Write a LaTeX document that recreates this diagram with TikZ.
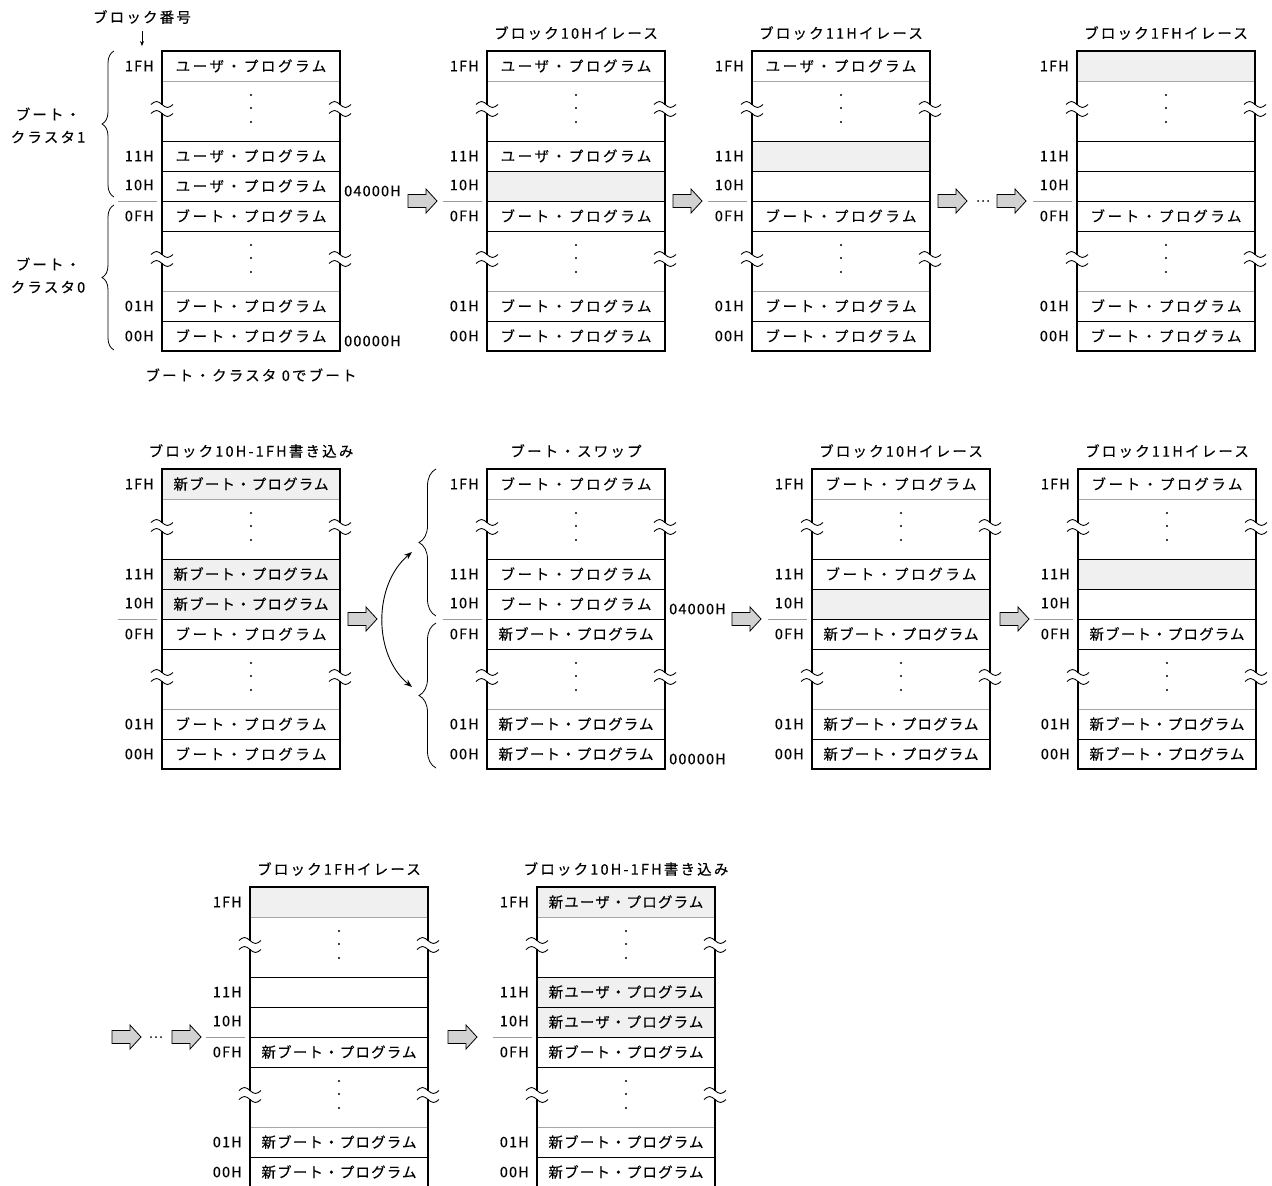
\documentclass[tikz,border=0pt]{standalone}
\usepackage{fontspec}
\setmainfont{Noto Sans CJK JP}
\newfontfamily\jpT[LetterSpace=15,FakeBold=0.3]{Noto Sans CJK JP}
\newfontfamily\jpC[LetterSpace=18,FakeBold=0.3]{Noto Sans CJK JP}
\newfontfamily\jpN[LetterSpace=8,FakeBold=0.3]{Noto Sans CJK JP}
\newfontfamily\jpL[LetterSpace=8,FakeBold=0.3]{Noto Sans CJK JP}
\usetikzlibrary{decorations.pathreplacing,arrows.meta}
\definecolor{cellgray}{gray}{0.94}
\newcommand\txU{{\jpC ユーザ・プログラム}}
\newcommand\txB{{\jpC ブート・プログラム}}
\newcommand\txNB{{\jpN 新ブート・プログラム}}
\newcommand\txNU{{\jpN 新ユーザ・プログラム}}
\tikzset{
  frame/.style={line width=1.6pt},
  midln/.style={line width=1pt},
  thinln/.style={line width=0.7pt,draw=gray!70},
  sepln/.style={line width=0.8pt,draw=gray!80},
  squigln/.style={line width=0.9pt},
  lbl/.style={anchor=east,inner sep=0pt,font=\jpL\fontsize{14.5}{16}\selectfont},
  addr/.style={anchor=west,inner sep=0pt,font=\jpL\fontsize{14.5}{16}\selectfont},
  cell/.style={inner sep=0pt,font=\fontsize{14.5}{16}\selectfont},
  ttl/.style={inner sep=0pt,font=\jpT\fontsize{14.5}{16}\selectfont},
  barr/.style={fill=gray!35,draw=black,line width=0.8pt,line join=miter},
  brc/.style={decorate,decoration={brace,amplitude=12pt},line width=0.8pt},
  brcb/.style={decorate,decoration={brace,amplitude=17pt},line width=0.8pt},
  swaparr/.style={{Stealth[length=8pt,width=6pt]}-{Stealth[length=8pt,width=6pt]},line width=0.9pt}
}
\newcommand\squig[2]{%
  \fill[white] (#1-2.2,#2-4.2) rectangle (#1+2.2,#2+4.2);
  \draw[squigln] (#1-11,#2-4.5) sin (#1-5.5,#2-7.5) cos (#1,#2-4.5) sin (#1+5.5,#2-1.5) cos (#1+11,#2-4.5);
  \draw[squigln] (#1-11,#2+4.5) sin (#1-5.5,#2+1.5) cos (#1,#2+4.5) sin (#1+5.5,#2+7.5) cos (#1+11,#2+4.5);
}
\newcommand\shadecell[3]{\fill[cellgray] (#1,#2+#3) rectangle (#1+178,#2+#3+30);}
\newcommand\memcol[9]{%
\begin{scope}[shift={(#2,#3)}]
  \coordinate (#1) at (0,0);
  \draw[thinln] (0,30) -- (178,30);
  \draw[midln] (0,90) -- (178,90);
  \draw[midln] (0,120) -- (178,120);
  \draw[midln] (0,150) -- (178,150);
  \draw[midln] (0,180) -- (178,180);
  \draw[thinln] (0,240) -- (178,240);
  \draw[midln] (0,270) -- (178,270);
  \draw[frame] (0,0) rectangle (178,300);
  \squig{0}{58}\squig{178}{58}\squig{0}{208}\squig{178}{208}
  \foreach \dy in {44,57,71,194,207,221} \fill (89,\dy) circle (1.2pt);
  \node[lbl] (#1l1) at (-8,15) {1FH};
  \node[lbl] (#1l2) at (-8,105) {11H};
  \node[lbl] (#1l3) at (-8,134) {10H};
  \node[lbl] (#1l4) at (-8,165) {0FH};
  \node[lbl] (#1l5) at (-8,255) {01H};
  \node[lbl] (#1l6) at (-8,285) {00H};
  \draw[sepln] (-44,150) -- (-5,150);
  \node[cell] (#1c1) at (89,15) {#4};
  \node[cell] (#1c2) at (89,105) {#5};
  \node[cell] (#1c3) at (89,135) {#6};
  \node[cell] (#1c4) at (89,165) {#7};
  \node[cell] (#1c5) at (89,255) {#8};
  \node[cell] (#1c6) at (89,285) {#9};
\end{scope}}
\newcommand\barrow[3]{\coordinate (#1) at (#2,#3);
  \draw[barr] (#2,#3-6.5) -- (#2+18,#3-6.5) -- (#2+18,#3-12) -- (#2+29,#3) -- (#2+18,#3+12) -- (#2+18,#3+6.5) -- (#2,#3+6.5) -- cycle;}
\newcommand\tridots[2]{\fill (#1,#2) circle (1pt); \fill (#1+5,#2) circle (1pt); \fill (#1+10,#2) circle (1pt);}
\begin{document}
\begin{tikzpicture}[x=1pt,y=-1pt]
\useasboundingbox (0,0) rectangle (1272,1186);
% ---------- row 1 ----------
\node[ttl] (bnum) at (142,17) {ブロック番号};
\coordinate (bnumtip) at (142,46);
\draw[-{Stealth[length=5pt,width=4pt]},line width=0.8pt] (bnum.south |- 0,31) -- (bnumtip);
\memcol{pa}{162}{51}{\txU}{\txU}{\txU}{\txB}{\txB}{\txB}
\node[addr] (pa04) at (344,191) {04000H};
\node[addr] (pa00) at (344,341) {00000H};
\draw[brc] (114,197) -- (114,51);
\draw[brc] (114,350) -- (114,205);
\node[ttl] (cl1a) at (48,114) {ブート・};
\node[ttl] (cl1b) at (48,137) {クラスタ1};
\node[ttl] (cl0a) at (48,264) {ブート・};
\node[ttl] (cl0b) at (48,287) {クラスタ0};
\node[ttl] (cap1) at (251,375) {ブート・クラスタ 0でブート};
\barrow{ar1}{408}{201}
\shadecell{487}{51}{120}
\memcol{pb}{487}{51}{\txU}{\txU}{}{\txB}{\txB}{\txB}
\node[ttl] (tpb) at (576,33) {ブロック10Hイレース};
\barrow{ar2}{673}{201}
\shadecell{752}{51}{90}
\memcol{pc}{752}{51}{\txU}{}{}{\txB}{\txB}{\txB}
\node[ttl] (tpc) at (841,33) {ブロック11Hイレース};
\barrow{ar3}{938}{201}
\tridots{978}{201}
\barrow{ar4}{997}{201}
\shadecell{1077}{51}{0}
\memcol{pd}{1077}{51}{}{}{}{\txB}{\txB}{\txB}
\node[ttl] (tpd) at (1166,33) {ブロック1FHイレース};
% ---------- row 2 ----------
\shadecell{162}{469}{0}\shadecell{162}{469}{90}\shadecell{162}{469}{120}
\memcol{qa}{162}{469}{\txNB}{\txNB}{\txNB}{\txB}{\txB}{\txB}
\node[ttl] (tqa) at (251,451) {ブロック10H-1FH書き込み};
\barrow{ar5}{348}{619}
\coordinate (swT) at (412,552);
\coordinate (swB) at (412,687);
\draw[swaparr] (swT) .. controls (373,585) and (373,655) .. (swB);
\draw[brcb] (436,616) -- (436,469);
\draw[brcb] (436,768) -- (436,623);
\memcol{qb}{487}{469}{\txB}{\txB}{\txB}{\txNB}{\txNB}{\txNB}
\node[ttl] (tqb) at (576,451) {ブート・スワップ};
\node[addr] (qb04) at (669,609) {04000H};
\node[addr] (qb00) at (669,759) {00000H};
\barrow{ar6}{732}{619}
\shadecell{812}{469}{120}
\memcol{qc}{812}{469}{\txB}{\txB}{}{\txNB}{\txNB}{\txNB}
\node[ttl] (tqc) at (901,451) {ブロック10Hイレース};
\barrow{ar7}{1000}{619}
\shadecell{1078}{469}{90}
\memcol{qd}{1078}{469}{\txB}{}{}{\txNB}{\txNB}{\txNB}
\node[ttl] (tqd) at (1167,451) {ブロック11Hイレース};
% ---------- row 3 ----------
\barrow{ar8}{112}{1037}
\tridots{151}{1037}
\barrow{ar9}{172}{1037}
\shadecell{250}{887}{0}
\memcol{ra}{250}{887}{}{}{}{\txNB}{\txNB}{\txNB}
\node[ttl] (tra) at (339,869) {ブロック1FHイレース};
\barrow{ar10}{448}{1037}
\shadecell{537}{887}{0}\shadecell{537}{887}{90}\shadecell{537}{887}{120}
\memcol{rb}{537}{887}{\txNU}{\txNU}{\txNU}{\txNB}{\txNB}{\txNB}
\node[ttl] (trb) at (626,869) {ブロック10H-1FH書き込み};
\end{tikzpicture}
\end{document}
